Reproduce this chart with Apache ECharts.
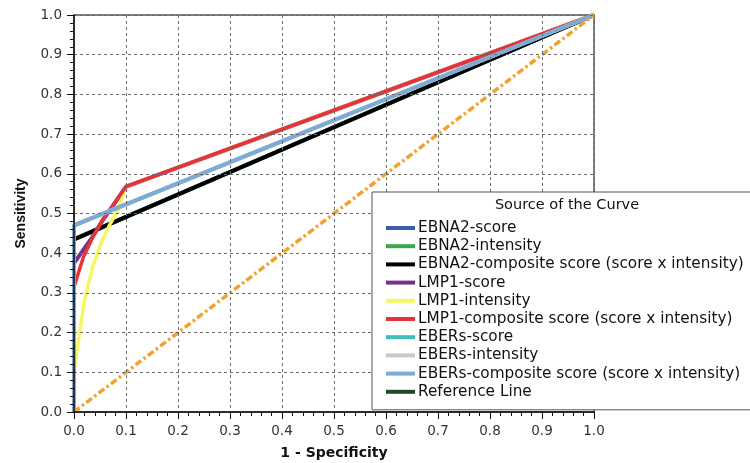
<!DOCTYPE html>
<html>
<head>
<meta charset="utf-8">
<script src="https://cdn.jsdelivr.net/npm/echarts@6/dist/echarts.min.js"></script>
<style>
  html, body { margin: 0; padding: 0; background: #fff; }
  #chart { width: 750px; height: 463px; }
</style>
</head>
<body>
<div id="chart"></div>
<script>
// ROC curves: 1 - specificity (fpr) against sensitivity (tpr)
const axisTicks = [0, 0.1, 0.2, 0.3, 0.4, 0.5, 0.6, 0.7, 0.8, 0.9, 1.0];

const ebna2ScoreFpr = [0, 0, 1];
const ebna2ScoreTpr = [0, 0.435, 1];
const ebna2IntensityFpr = [0, 0, 1];
const ebna2IntensityTpr = [0, 0.435, 1];
const ebna2CompositeFpr = [0, 0, 1];
const ebna2CompositeTpr = [0, 0.435, 1];

const lmp1ScoreFpr = [0, 0, 0.035, 0.055, 0.075, 0.1, 1];
const lmp1ScoreTpr = [0, 0.375, 0.44, 0.483, 0.52, 0.568, 1];
const lmp1IntensityFpr = [0, 0, 0.02, 0.036, 0.052, 0.068, 0.085, 0.1, 1];
const lmp1IntensityTpr = [0, 0.105, 0.28, 0.366, 0.425, 0.47, 0.51, 0.568, 1];
const lmp1CompositeFpr = [0, 0, 0.018, 0.036, 0.055, 0.075, 0.1, 1];
const lmp1CompositeTpr = [0, 0.315, 0.39, 0.44, 0.483, 0.52, 0.568, 1];

const ebersScoreFpr = [0, 0, 1];
const ebersScoreTpr = [0, 0.47, 1];
const ebersIntensityFpr = [0, 0, 1];
const ebersIntensityTpr = [0, 0.47, 1];
const ebersCompositeFpr = [0, 0, 1];
const ebersCompositeTpr = [0, 0.47, 1];

const referenceFpr = [0, 1];
const referenceTpr = [0, 1];

const curveNames = [
  'EBNA2-score',
  'EBNA2-intensity',
  'EBNA2-composite score (score x intensity)',
  'LMP1-score',
  'LMP1-intensity',
  'LMP1-composite score (score x intensity)',
  'EBERs-score',
  'EBERs-intensity',
  'EBERs-composite score (score x intensity)',
  'Reference Line'
];

const curveFpr = [ebna2ScoreFpr, ebna2IntensityFpr, ebna2CompositeFpr, lmp1ScoreFpr, lmp1IntensityFpr,
  lmp1CompositeFpr, ebersScoreFpr, ebersIntensityFpr, ebersCompositeFpr, referenceFpr];
const curveTpr = [ebna2ScoreTpr, ebna2IntensityTpr, ebna2CompositeTpr, lmp1ScoreTpr, lmp1IntensityTpr,
  lmp1CompositeTpr, ebersScoreTpr, ebersIntensityTpr, ebersCompositeTpr, referenceTpr];

// line colours, and the swatch colours shown in the key
const lineColors = ['#3b5ca8', '#3aa84a', '#000000', '#74308e', '#f6f65e', '#e4343b',
  '#3fbcbc', '#c9c9c9', '#7eaad6', '#f2a12e'];
const keyColors = ['#3b5ca8', '#3aa84a', '#000000', '#74308e', '#f6f65e', '#e4343b',
  '#3fbcbc', '#c9c9c9', '#7eaad6', '#1d4a2a'];
const lineWidths = [4, 4, 4, 4, 3.5, 3.5, 4, 4, 4, 3.5];

const WIDE_FONT = '"DejaVu Sans", Verdana, sans-serif';
const NAME_FONT = '"Liberation Sans", Arial, sans-serif';

const series = curveNames.map((name, i) => ({
  name: name,
  type: 'line',
  data: curveFpr[i].map((x, k) => [x, curveTpr[i][k]]),
  showSymbol: false,
  symbol: 'none',
  animation: false,
  z: 2 + i * 0.01,
  lineStyle: {
    color: lineColors[i],
    width: lineWidths[i],
    type: i === curveNames.length - 1 ? [7, 3, 2.5, 3] : 'solid',
    cap: 'butt'
  },
  itemStyle: { color: lineColors[i] }
}));

function valueAxis(labelMargin, extra) {
  return Object.assign({
    type: 'value',
    min: 0,
    max: 1,
    interval: 0.1,
    axisLine: { show: true, onZero: false, lineStyle: { color: '#111', width: 1.5 } },
    axisTick: { show: true, inside: false, length: 7, lineStyle: { color: '#111', width: 1 } },
    minorTick: { show: true, splitNumber: 5, length: 4, lineStyle: { color: '#111', width: 1 } },
    splitLine: { show: true, lineStyle: { color: '#6a6a6a', width: 1, type: [3, 3] } },
    axisLabel: {
      fontFamily: WIDE_FONT, fontSize: 13.5, color: '#333', margin: labelMargin,
      formatter: v => axisTicks.includes(Math.round(v * 10) / 10) ? v.toFixed(1) : ''
    },
    nameLocation: 'middle',
    z: 5
  }, extra);
}

const chart = echarts.init(document.getElementById('chart'), null, { renderer: 'canvas' });
chart.setOption({
  backgroundColor: '#ffffff',
  animation: false,
  grid: {
    left: 74, right: 156, top: 15, bottom: 51,
    outerBoundsMode: 'none',
    containLabel: false,
    show: true, borderColor: '#555', borderWidth: 1.5, backgroundColor: 'transparent'
  },
  xAxis: valueAxis(12, {
    name: '1 - Specificity', nameGap: 34,
    nameTextStyle: { fontFamily: WIDE_FONT, fontSize: 14, fontWeight: 'bold', color: '#111' }
  }),
  yAxis: valueAxis(12, {
    name: 'Sensitivity', nameGap: 46,
    nameTextStyle: { fontFamily: NAME_FONT, fontSize: 14, fontWeight: 'bold', color: '#111' }
  }),
  legend: {
    orient: 'vertical',
    left: 372,
    top: 192,
    padding: [28, 20, 10, 14],
    backgroundColor: '#ffffff',
    borderColor: '#555',
    borderWidth: 1,
    icon: 'rect',
    itemWidth: 29,
    itemHeight: 4,
    itemGap: 2.2,
    selectedMode: false,
    z: 10,
    textStyle: { fontFamily: WIDE_FONT, fontSize: 15.3, color: '#111', lineHeight: 16, padding: [0, 0, 0, -2] },
    data: curveNames.map((name, i) => ({ name: name, itemStyle: { color: keyColors[i] } }))
  },
  graphic: [{
    type: 'text',
    z: 100,
    x: 567,
    y: 205,
    style: {
      text: 'Source of the Curve',
      fontFamily: WIDE_FONT,
      fontSize: 14.5,
      fill: '#111',
      textAlign: 'center',
      textVerticalAlign: 'middle'
    }
  }],
  series: series
});
</script>
</body>
</html>
